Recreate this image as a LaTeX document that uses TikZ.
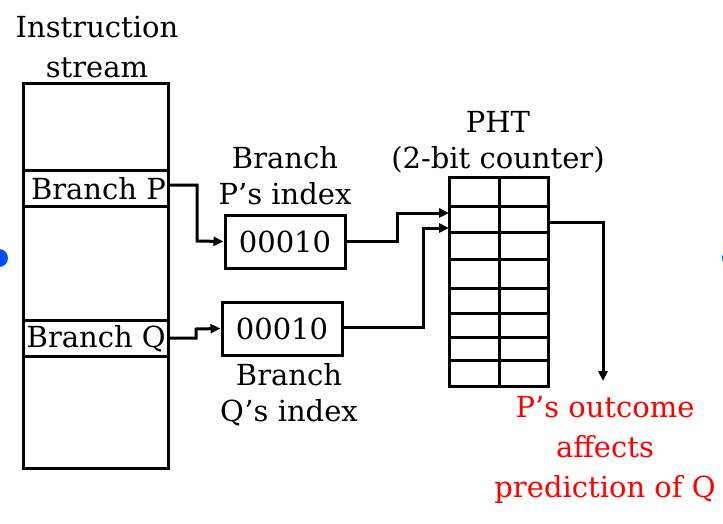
\documentclass[tikz,border=0pt]{standalone}
\usepackage{fontspec}
\setmainfont{DejaVu Serif}
\usetikzlibrary{arrows.meta}
\begin{document}
\begin{tikzpicture}[x=1pt,y=-1pt,
  txt/.style={inner sep=0pt,align=center,font=\fontsize{29}{36}\selectfont},
  txtw/.style={inner sep=0pt,align=center,font=\fontsize{29}{40}\selectfont},
  ln/.style={line width=3pt},
  conn/.style={line width=3pt,-{Triangle[length=10pt,width=9pt]}},
  idxbox/.style={draw,line width=3pt,minimum width=120pt,minimum height=53pt,inner sep=0pt,font=\fontsize{29}{36}\selectfont}]
\useasboundingbox (0,0) rectangle (723,523);
\fill[white] (0,0) rectangle (723,523);
% handles
\fill[blue!70!cyan] (-1,258) circle (9);
\fill[blue!70!cyan] (731,258) circle (9);

% instruction stream
\node[txtw] (title) at (97,47) {Instruction\\stream};
\draw[ln] (23,83) rectangle (168,468);
\draw[ln] (23,170) -- (168,170);
\draw[ln] (23,206) -- (168,206);
\draw[ln] (23,320) -- (168,320);
\draw[ln] (23,356) -- (168,356);
\node[txt,anchor=east] (bp) at (166,189) {Branch P};
\node[txt,anchor=east] (bq) at (166,339) {Branch Q};
\coordinate (bpo) at (168,185);
\coordinate (bqo) at (168,338);

% index boxes
\node[idxbox] (i1) at (285,241.5) {00010};
\node[idxbox] (i2) at (282,328.5) {00010};
\node[txt] (l1) at (285,176) {Branch\\P's index};
\node[txt] (l2) at (289,395) {Branch\\Q's index};

% PHT
\node[txt] (pht) at (498,142) {PHT\\(2-bit counter)};
\draw[ln] (449,177) rectangle (548,386);
\draw[ln] (499,177) -- (499,386);
\foreach \y in {206,232,259,288,313,337,360} \draw[ln] (449,\y) -- (548,\y);
\coordinate (ph1) at (449,213);
\coordinate (ph2) at (449,228);
\coordinate (pho) at (548,222);
\coordinate (out) at (603,381);

% connectors
\draw[conn] (bpo) -| (197,241) -- (i1.west);
\draw[conn] (bqo) -| (196,329) -- (i2.west);
\draw[conn] (i1.east) -| (397,213) -- (ph1);
\draw[conn] (i2.east |- 0,327) -| (423,228) -- (ph2);
\draw[conn] (pho) -| (out);

% outcome
\node[txtw,text=red] (res) at (605,450) {P's outcome\\affects\\prediction of Q};
\end{tikzpicture}
\end{document}
